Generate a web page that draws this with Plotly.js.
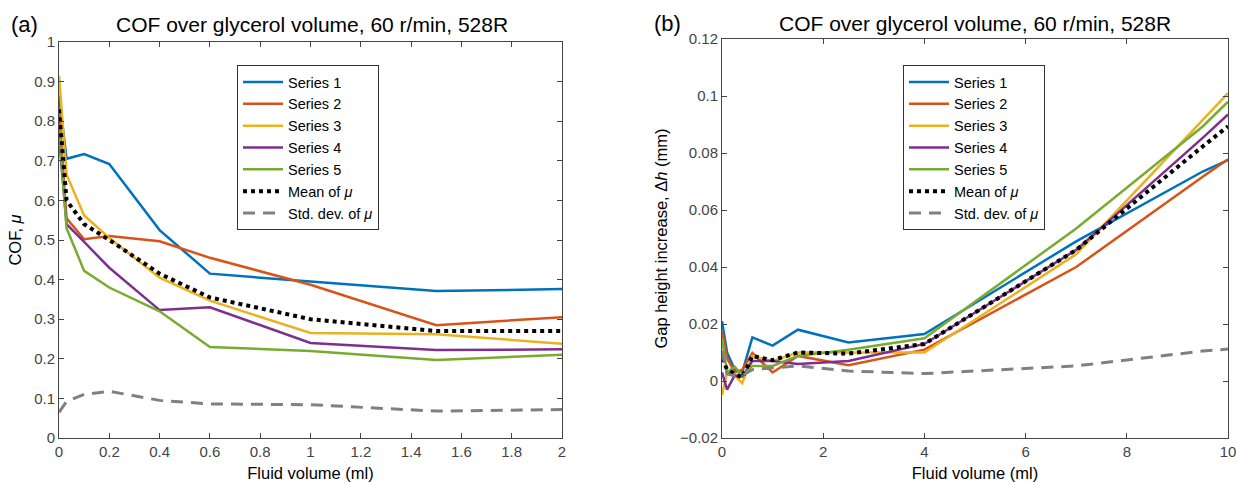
<!DOCTYPE html>
<html>
<head>
<meta charset="utf-8">
<script src="https://cdn.plot.ly/plotly-3.0.1.min.js"></script>
<style>
html,body{margin:0;padding:0;background:#fff;}
#chart{width:1240px;height:482px;}
</style>
</head>
<body>
<div id="chart"></div>
<script>
// ---------- Panel (a): COF vs fluid volume ----------
var volumeA = [0, 0.03, 0.1, 0.2, 0.4, 0.6, 1, 1.5, 2];
var cofSeries1 = [0.865, 0.705, 0.717, 0.692, 0.525, 0.415, 0.395, 0.371, 0.376];
var cofSeries2 = [0.83, 0.555, 0.502, 0.51, 0.497, 0.455, 0.387, 0.285, 0.305];
var cofSeries3 = [0.915, 0.665, 0.562, 0.505, 0.405, 0.347, 0.265, 0.262, 0.238];
var cofSeries4 = [0.76, 0.54, 0.495, 0.43, 0.323, 0.33, 0.24, 0.222, 0.224];
var cofSeries5 = [0.785, 0.53, 0.422, 0.38, 0.32, 0.23, 0.22, 0.197, 0.21];
var cofMean = [0.83, 0.6, 0.54, 0.5, 0.415, 0.355, 0.3, 0.27, 0.27];
var cofStd = [0.065, 0.092, 0.11, 0.118, 0.095, 0.086, 0.084, 0.068, 0.072];

// ---------- Panel (b): gap height increase vs fluid volume ----------
var volumeB = [0, 0.1, 0.25, 0.4, 0.6, 1, 1.5, 2.5, 4, 7, 9.5, 10];
var gapSeries1 = [0.021, 0.010, 0.004, 0.003, 0.0153, 0.0124, 0.018, 0.0135, 0.0165, 0.049, 0.0735, 0.0775];
var gapSeries2 = [0.0175, 0.008, 0.003, 0.004, 0.0098, 0.003, 0.0088, 0.0055, 0.011, 0.040, 0.0717, 0.0778];
var gapSeries3 = [-0.005, 0.003, 0.002, -0.0008, 0.0088, 0.007, 0.010, 0.010, 0.010, 0.0445, 0.0916, 0.101];
var gapSeries4 = [0.003, -0.003, 0.002, 0.0015, 0.007, 0.007, 0.006, 0.007, 0.013, 0.046, 0.0853, 0.0935];
var gapSeries5 = [0.015, 0.003, 0.005, 0.002, 0.0053, 0.0053, 0.0088, 0.011, 0.015, 0.0535, 0.0893, 0.098];
var gapMean = [0.008, 0.004, 0.0025, 0.0012, 0.0088, 0.0073, 0.010, 0.0096, 0.013, 0.046, 0.0823, 0.0894];
var gapStd = [0.0105, 0.0025, 0.0018, 0.002, 0.004, 0.0045, 0.0053, 0.0035, 0.0026, 0.0053, 0.0105, 0.0112];

var seriesNames = ['Series 1', 'Series 2', 'Series 3', 'Series 4', 'Series 5', 'Mean of <i>μ</i>', 'Std. dev. of <i>μ</i>'];
var seriesColors = ['#0072BD', '#D95319', '#EDB120', '#7E2F8E', '#77AC30', '#000000', '#808080'];

var FONT = 'Liberation Sans, Arial, Helvetica, sans-serif';
var W = 1240, H = 482;

function lineTrace(x, y, i, xa, ya, leg) {
  var line = {color: seriesColors[i], width: 2.5};
  if (i === 5) { line.width = 4; line.dash = 'dot'; }
  if (i === 6) { line.width = 3; line.dash = '12px,8px'; }
  return {x: x, y: y, type: 'scatter', mode: 'lines', name: seriesNames[i],
          line: line, xaxis: xa, yaxis: ya, legend: leg, hoverinfo: 'skip'};
}

var aSets = [cofSeries1, cofSeries2, cofSeries3, cofSeries4, cofSeries5, cofMean, cofStd];
var bSets = [gapSeries1, gapSeries2, gapSeries3, gapSeries4, gapSeries5, gapMean, gapStd];
var traces = [];
aSets.forEach(function (s, i) { traces.push(lineTrace(volumeA, s, i, 'x', 'y', 'legend')); });
bSets.forEach(function (s, i) { traces.push(lineTrace(volumeB, s, i, 'x2', 'y2', 'legend2')); });

function px(v) { return v / W; }
function py(v) { return 1 - v / H; }

var axisCommon = {
  showline: true, linecolor: '#444', linewidth: 1, mirror: 'ticks',
  ticks: 'inside', ticklen: 5, tickcolor: '#444', tickwidth: 1,
  showgrid: false, zeroline: false,
  tickfont: {family: FONT, size: 15, color: '#444'},
  title: {font: {family: FONT, size: 16, color: '#000'}}
};
function ax(extra) { return Object.assign(JSON.parse(JSON.stringify(axisCommon)), extra); }

var layout = {
  width: W, height: H,
  margin: {l: 0, r: 0, t: 0, b: 0},
  paper_bgcolor: '#fff', plot_bgcolor: '#fff',
  font: {family: FONT, color: '#000'},
  showlegend: true,
  xaxis: ax({domain: [px(59), px(562)], range: [0, 2], tickvals: [0, 0.2, 0.4, 0.6, 0.8, 1, 1.2, 1.4, 1.6, 1.8, 2],
             ticktext: ['0', '0.2', '0.4', '0.6', '0.8', '1', '1.2', '1.4', '1.6', '1.8', '2'], anchor: 'y',
             title: {text: 'Fluid volume (ml)', font: {family: FONT, size: 16.5, color: '#000'}, standoff: 8}}),
  yaxis: ax({domain: [py(438), py(42)], range: [0, 1], dtick: 0.1, anchor: 'x',
             title: {text: 'COF, <i>μ</i>', font: {family: FONT, size: 16.5, color: '#000'}, standoff: 8}}),
  xaxis2: ax({domain: [px(722), px(1228)], range: [0, 10], dtick: 2, anchor: 'y2',
              title: {text: 'Fluid volume (ml)', font: {family: FONT, size: 16.5, color: '#000'}, standoff: 8}}),
  yaxis2: ax({domain: [py(438), py(39)], range: [-0.02, 0.12], dtick: 0.02, anchor: 'x2',
              title: {text: 'Gap height increase, Δ<i>h</i> (mm)', font: {family: FONT, size: 16.5, color: '#000'}, standoff: 8}}),
  legend: {x: px(237), y: py(65), xanchor: 'left', yanchor: 'top', bgcolor: '#fff', bordercolor: '#333', borderwidth: 1,
           font: {family: FONT, size: 14.5, color: '#000'}, tracegroupgap: 0, itemwidth: 40},
  legend2: {x: px(903), y: py(65), xanchor: 'left', yanchor: 'top', bgcolor: '#fff', bordercolor: '#333', borderwidth: 1,
            font: {family: FONT, size: 14.5, color: '#000'}, tracegroupgap: 0, itemwidth: 40},
  annotations: [
    {text: 'COF over glycerol volume, 60 r/min, 528R', xref: 'paper', yref: 'paper', x: px(312), y: py(24),
     xanchor: 'center', yanchor: 'middle', showarrow: false, font: {family: FONT, size: 21, color: '#000'}},
    {text: 'COF over glycerol volume, 60 r/min, 528R', xref: 'paper', yref: 'paper', x: px(975), y: py(23),
     xanchor: 'center', yanchor: 'middle', showarrow: false, font: {family: FONT, size: 21, color: '#000'}},
    {text: '(a)', xref: 'paper', yref: 'paper', x: px(24), y: py(24), xanchor: 'center', yanchor: 'middle',
     showarrow: false, font: {family: FONT, size: 22, color: '#000'}},
    {text: '(b)', xref: 'paper', yref: 'paper', x: px(667), y: py(23), xanchor: 'center', yanchor: 'middle',
     showarrow: false, font: {family: FONT, size: 22, color: '#000'}}
  ]
};

Plotly.newPlot('chart', traces, layout, {displayModeBar: false, responsive: false});
</script>
</body>
</html>
